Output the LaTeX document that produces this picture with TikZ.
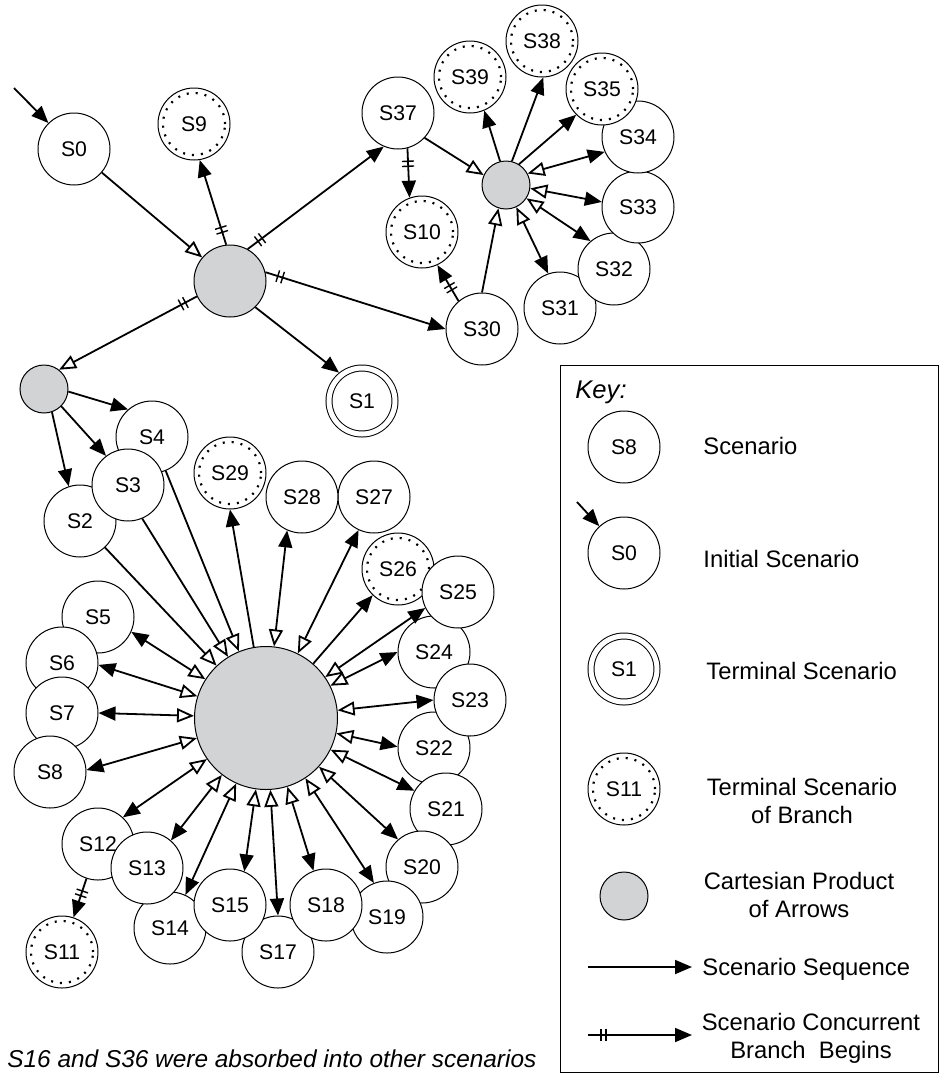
\documentclass[tikz,border=0pt]{standalone}
\usepackage{fontspec}
\setmainfont{Liberation Sans}
\usetikzlibrary{arrows.meta,decorations.markings}
\definecolor{hubgray}{RGB}{209,211,212}

\begin{document}
\begin{tikzpicture}[x=0.5pt,y=-0.5pt]
	\useasboundingbox (0,0) rectangle (943,1078);
	\begin{scope}
	\tikzstyle{every node}=[inner sep=0pt, font=\fontsize{10.6}{12.5}\selectfont]
	\tikzstyle{sc}=[circle, draw, line width=0.5pt, fill=white, minimum size=36pt]
	\tikzstyle{term}=[sc, minimum size=33pt, double, double distance=2.5pt, outer sep=1.75pt]
	\tikzstyle{branch}=[sc, path picture={\draw[line width=1.1pt, dash pattern=on 1pt off 3.5pt] (path picture bounding box.center) circle (15.5pt);}]
	\tikzstyle{hub}=[circle, draw, line width=0.5pt, fill=hubgray, minimum size=24pt]
	\tikzstyle{seq}=[line width=0.9pt, -{Triangle[length=8.5pt,width=7pt]}]
	\tikzstyle{feed}=[line width=0.9pt, -{Triangle[length=8.5pt,width=7pt,fill=white]}]
	\tikzstyle{both}=[line width=0.9pt, {Triangle[length=8.5pt,width=7pt,fill=white]}-{Triangle[length=8.5pt,width=7pt]}]
	\tikzstyle{conc}=[postaction={decorate}, decoration={markings,
		mark=at position 6.5pt with {\draw[-, line width=0.7pt] (0,-3pt) -- (0,3pt);},
		mark=at position 9pt with {\draw[-, line width=0.7pt] (0,-3pt) -- (0,3pt);}}]
	\tikzstyle{keytext}=[font=\fontsize{11.9}{14}\selectfont, align=center]

		% upper part
		\coordinate (init) at (14,88);
		\node[sc] (S0) at (74,149) {S0};
		\node[branch] (S9) at (194,124) {S9};
		\node[hub, minimum size=36pt] (H1) at (230,281) {};
		\node[term] (S1) at (362,401) {S1};
		\node[hub] (H2) at (44,389) {};
		\node[sc] (S37) at (398,113) {S37};
		\node[branch] (S10) at (422,232) {S10};
		\node[sc] (S30) at (482,329) {S30};
		\node[hub] (H3) at (506,185) {};
		\node[sc] (S31) at (560,308) {S31};
		\node[sc] (S32) at (614,269) {S32};
		\node[sc] (S33) at (638,207) {S33};
		\node[sc] (S34) at (638,137) {S34};
		\node[branch] (S35) at (602,89) {S35};
		\node[branch] (S38) at (542,41) {S38};
		\node[branch] (S39) at (470,77) {S39};

		% big cartesian product
		\node[hub, minimum size=71.5pt] (HB) at (266,718) {};
		\node[branch] (S26) at (398,569) {S26};
		\node[sc] (S24) at (434,652) {S24};
		\node[sc] (S25) at (458,592) {S25};
		\node[sc] (S22) at (434,748) {S22};
		\node[sc] (S23) at (470,700) {S23};
		\node[sc] (S21) at (446,809) {S21};
		\node[sc] (S20) at (422,867) {S20};
		\node[sc] (S19) at (387,917) {S19};
		\node[sc] (S17) at (278,952) {S17};
		\node[sc] (S14) at (170,928) {S14};
		\node[sc] (S18) at (326,905) {S18};
		\node[sc] (S15) at (230,905) {S15};
		\node[sc] (S12) at (98,844) {S12};
		\node[sc] (S13) at (147,868) {S13};
		\node[branch] (S11) at (62,952) {S11};
		\node[sc] (S5) at (98,617) {S5};
		\node[sc] (S6) at (62,663) {S6};
		\node[sc] (S7) at (62,713) {S7};
		\node[sc] (S8) at (50,772) {S8};
		\node[sc] (S2) at (80,521) {S2};
		\node[sc] (S4) at (152,437) {S4};
		\node[sc] (S3) at (128,485) {S3};
		\node[sc] (S27) at (374,497) {S27};
		\node[sc] (S28) at (302,497) {S28};
		\node[branch] (S29) at (230,473) {S29};

		\draw[seq] (init) -- (S0);
		\draw[feed] (S0) -- (H1);
		\draw[seq,conc] (H1.96) -- (S9.-81);
		\draw[seq,conc] (H1.61) -- (S37.247);
		\draw[seq,conc] (H1.14) -- (S30.180);
		\draw[feed,conc] (H1.205) -- (H2.52);
		\draw[seq] (H1.-46) -- (S1.129);
		\draw[seq] (H2.-6) -- (S4.131);
		\draw[seq] (H2.-45) -- (S3.127);
		\draw[seq] (H2.-71) -- (S2.108);

		\draw[feed] (S37.-43) -- (H3.156);
		\draw[seq,conc] (S37.-75) -- (S10.110);
		\draw[seq,conc] (S30.130) -- (S10.-65);
		\draw[feed] (S30.90) -- (H3.252);
		\draw[seq] (H3.104) -- (S39.-67);
		\draw[seq] (H3.76) -- (S38.-88);
		\draw[seq] (H3.58) -- (S35.225);
		\draw[both] (H3.28) -- (S34.204);
		\draw[both] (H3.-8) -- (S33.172);
		\draw[both] (H3.-33) -- (S32.130);
		\draw[both] (H3.-65) -- (S31.109);

		\draw[feed] (S2) -- (HB);
		\draw[feed] (S3.-67) -- (HB);
		\draw[feed] (S4) -- (HB);
		\draw[seq] (HB) -- (S29.-90);
		\draw[both] (HB) -- (S28.246);
		\draw[both] (HB) -- (S27.245);
		\draw[seq] (HB) -- (S26.226);
		\draw[both] (HB) -- (S25.206);
		\draw[both] (HB) -- (S24.180);
		\draw[both] (HB) -- (S23.180);
		\draw[both] (HB) -- (S22.178);
		\draw[both] (HB) -- (S21.150);
		\draw[both] (HB) -- (S20.131);
		\draw[both] (HB) -- (S19.111);
		\draw[both] (HB) -- (S18.110);
		\draw[both] (HB) -- (S17.90);
		\draw[both] (HB) -- (S15.67);
		\draw[both] (HB) -- (S14.65);
		\draw[both] (HB) -- (S13.49);
		\draw[both] (HB) -- (S12.47);
		\draw[both] (HB) -- (S8.3);
		\draw[both] (HB) -- (S7.0);
		\draw[both] (HB) -- (S6.-3);
		\draw[both] (HB) -- (S5.-24);
		\draw[seq,conc] (S12) -- (S11);

		\node[font=\fontsize{12.2}{14}\selectfont\itshape, anchor=base west] (note) at (7,1067) {S16 and S36 were absorbed into other scenarios};

		% key
		\draw[line width=0.5pt] (560,365) rectangle (938,1072);
		\node[font=\fontsize{12.8}{15}\selectfont\itshape, anchor=base west] (keyhead) at (575,398) {Key:};
		\node[sc] (kS8) at (624,447) {S8};
		\node[keytext, anchor=base west] (kt1) at (703,454) {Scenario};
		\coordinate (kinit) at (577,502);
		\node[sc] (kS0) at (624,553) {S0};
		\draw[seq] (kinit) -- (kS0);
		\node[keytext, anchor=base west] (kt2) at (703,567) {Initial Scenario};
		\node[term] (kS1) at (624,669) {S1};
		\node[keytext, anchor=base west] (kt3) at (706,679) {Terminal Scenario};
		\node[branch] (kS11) at (624,789) {S11};
		\node[keytext] (kt4) at (802,801) {Terminal Scenario\\of Branch};
		\node[hub] (kH) at (624,896) {};
		\node[keytext] (kt5) at (799,895) {Cartesian Product\\of Arrows};
		\coordinate (kA1) at (588,967);
		\coordinate (kA2) at (692,967);
		\draw[seq] (kA1) -- (kA2);
		\node[keytext, anchor=base west] (kt6) at (702,975) {Scenario Sequence};
		\coordinate (kB1) at (588,1035);
		\coordinate (kB2) at (692,1035);
		\draw[seq,conc] (kB1) -- (kB2);
		\node[keytext] (kt7) at (811,1038) {Scenario Concurrent\\Branch\ \ Begins};
	\end{scope}
\end{tikzpicture}
\end{document}
